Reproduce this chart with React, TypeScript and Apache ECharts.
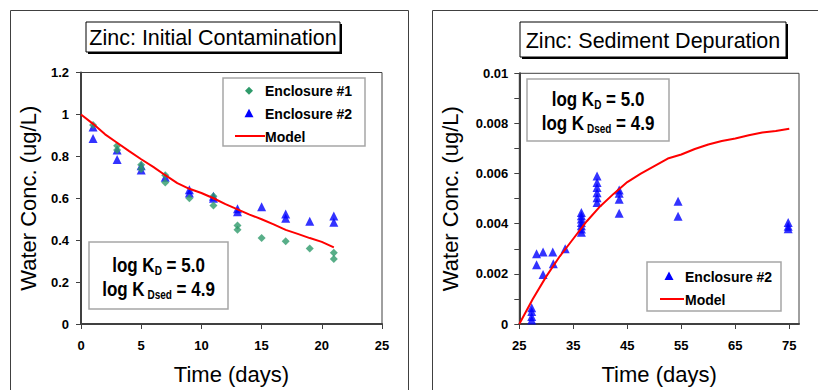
import { useEffect, useRef } from "react";
import * as echarts from "echarts";

const FONT = '"Liberation Sans", Arial, Helvetica, sans-serif';
const AXIS_COLOR = "#404040";
const GREEN = "#2e9a6a";
const BLUE = "#0000ff";
const RED = "#ff0000";

// ---- Zinc: initial contamination ----
const enc1Days = [1, 3, 3, 5, 5, 7, 7, 9, 11, 11, 13, 13, 15, 17, 19, 21, 21];
const enc1Conc = [0.95, 0.85, 0.83, 0.76, 0.74, 0.71, 0.675, 0.6, 0.61, 0.565, 0.47, 0.45, 0.41, 0.395, 0.36, 0.34, 0.31];

const enc2Days = [1, 1, 3, 3, 5, 5, 7, 9, 9, 11, 11, 13, 13, 15, 17, 17, 19, 21, 21];
const enc2Conc = [0.94, 0.885, 0.83, 0.785, 0.755, 0.735, 0.7, 0.64, 0.625, 0.61, 0.6, 0.55, 0.535, 0.56, 0.525, 0.505, 0.49, 0.515, 0.485];

const modelDays = [0, 1, 2, 3, 4, 5, 6, 7, 8, 9, 10, 11, 12, 13, 14, 15, 16, 17, 18, 19, 20, 21];
const modelConc = [1.0, 0.955, 0.905, 0.865, 0.825, 0.786, 0.75, 0.71, 0.672, 0.645, 0.625, 0.6, 0.572, 0.547, 0.522, 0.5, 0.475, 0.449, 0.43, 0.41, 0.392, 0.366];

const initXTicks = [0, 5, 10, 15, 20, 25];

// ---- Zinc: sediment depuration ----
const depDays = [
  27.3, 27.3, 27.3, 27.3,
  28.2, 28.2, 29.4, 29.4, 31.2, 31.3, 33.5,
  36.5, 36.5, 36.5, 36.5, 36.5, 36.5, 36.5,
  39.4, 39.4, 39.4, 39.4, 39.4, 39.4,
  43.5, 43.5, 43.5, 43.5,
  54.4, 54.4,
  74.8, 74.8, 74.8,
];
const depConc = [
  0.00065, 0.0005, 0.0003, 0.00016,
  0.0028, 0.00236, 0.00287, 0.00197, 0.00287, 0.0024, 0.003,
  0.00445, 0.00432, 0.00419, 0.00405, 0.00392, 0.00379, 0.00366,
  0.0059, 0.00564, 0.00544, 0.00524, 0.00504, 0.00485,
  0.00535, 0.00522, 0.00498, 0.00442,
  0.0049, 0.0043,
  0.00405, 0.0039, 0.0038,
];

const depModelDays = [25, 27.5, 30, 32.5, 35, 37.5, 40, 42.5, 45, 47.5, 50, 52.5, 55, 57.5, 60, 62.5, 65, 67.5, 70, 72.5, 75];
const depModelConc = [0, 0.001, 0.0019, 0.0027, 0.0034, 0.0041, 0.0047, 0.0052, 0.00566, 0.006, 0.0063, 0.0066, 0.00676, 0.00698, 0.00716, 0.0073, 0.0074, 0.00753, 0.00764, 0.0077, 0.00779];

const depXTicks = [25, 35, 45, 55, 65, 75];

const pairs = (xs: number[], ys: number[]) => xs.map((x, i) => [x, ys[i]]);

const tickLabel = {
  fontFamily: FONT,
  fontWeight: "bold" as const,
  fontSize: 13,
  color: "#000",
};

const axisName = {
  fontFamily: FONT,
  fontSize: 22,
  color: "#000",
};

function titleBox(x: number, y: number, w: number, h: number, text: string) {
  return {
    type: "group",
    children: [
      { type: "rect", shape: { x: x + 2, y: y + 2, width: w, height: h }, style: { fill: "#000" } },
      { type: "rect", shape: { x, y, width: w, height: h }, style: { fill: "#fff", stroke: "#000", lineWidth: 1 } },
      {
        type: "text",
        x: x + w / 2,
        y: y + h / 2 + 1,
        style: { text, fontFamily: FONT, fontSize: 21.5, fill: "#000", align: "center", verticalAlign: "middle" },
      },
    ],
  };
}

// Box with the two partition coefficients, slightly stretched vertically
function kBox(x: number, y: number, w: number, h: number) {
  const big = { fontFamily: FONT, fontWeight: "bold", fontSize: 17, lineHeight: 20, fill: "#000" };
  const sub = { fontFamily: FONT, fontWeight: "bold", fontSize: 10, lineHeight: 12, fill: "#000", verticalAlign: "bottom" };
  return {
    type: "group",
    children: [
      { type: "rect", shape: { x, y, width: w, height: h }, style: { fill: "#fff", stroke: "#a6a6a6", lineWidth: 1.5 } },
      {
        type: "text",
        x: x + w / 2,
        y: y + h / 2 + 1,
        scaleY: 1.2,
        style: {
          text: "{b|log K}{s|D}{b| = 5.0}\n{b|log K}{s| Dsed}{b| = 4.9}",
          align: "center",
          verticalAlign: "middle",
          rich: { b: big, s: sub },
        },
      },
    ],
  };
}

type LegendEntry = { label: string; kind: "diamond" | "triangle" | "line" };

function legendBox(x: number, y: number, w: number, h: number, rows: number[], markX: number, lineX: [number, number], textX: number, entries: LegendEntry[]) {
  const children: any[] = [
    { type: "rect", shape: { x, y, width: w, height: h }, style: { fill: "#fff", stroke: "#a6a6a6", lineWidth: 1.5 } },
  ];
  entries.forEach((e, i) => {
    const cy = rows[i];
    if (e.kind === "diamond") {
      children.push({
        type: "polygon",
        shape: { points: [[markX, cy - 4], [markX + 4, cy], [markX, cy + 4], [markX - 4, cy]] },
        style: { fill: GREEN },
      });
    } else if (e.kind === "triangle") {
      children.push({
        type: "polygon",
        shape: { points: [[markX, cy - 4.5], [markX + 4.5, cy + 4], [markX - 4.5, cy + 4]] },
        style: { fill: BLUE },
      });
    } else {
      children.push({
        type: "line",
        shape: { x1: lineX[0], y1: cy, x2: lineX[1], y2: cy },
        style: { stroke: RED, lineWidth: 2 },
      });
    }
    children.push({
      type: "text",
      x: textX,
      y: cy + 0.5,
      style: { text: e.label, fontFamily: FONT, fontWeight: "bold", fontSize: 14, fill: "#000", align: "left", verticalAlign: "middle" },
    });
  });
  return { type: "group", children };
}

function frame(x: number, w: number) {
  return {
    type: "rect",
    shape: { x, y: 10.5, width: w, height: 420 },
    style: { fill: "none", stroke: AXIS_COLOR, lineWidth: 1 },
    z: -10,
  };
}

function buildOption() {
  const tick = { show: true, length: 5, lineStyle: { color: AXIS_COLOR, width: 1 } };
  const line = { show: true, onZero: false, lineStyle: { color: AXIS_COLOR, width: 2 } };
  return {
    animation: false,
    backgroundColor: "#fff",
    grid: [
      { left: 81, top: 72.5, width: 301, height: 253, show: true, borderColor: AXIS_COLOR, borderWidth: 1, backgroundColor: "#fff" },
      { left: 519.3, top: 73.3, width: 279.7, height: 252.4, show: true, borderColor: AXIS_COLOR, borderWidth: 1, backgroundColor: "#fff" },
    ],
    xAxis: [
      {
        gridIndex: 0,
        type: "value",
        min: 0,
        max: 25,
        interval: 5,
        axisLine: line,
        axisTick: { ...tick, customValues: initXTicks },
        axisLabel: { ...tickLabel, margin: 15, customValues: initXTicks },
        splitLine: { show: false },
        name: "Time (days)",
        nameLocation: "middle",
        nameGap: 39,
        nameTextStyle: axisName,
      },
      {
        gridIndex: 1,
        type: "value",
        min: 25,
        max: 76.8,
        axisLine: line,
        axisTick: { ...tick, customValues: depXTicks },
        axisLabel: { ...tickLabel, margin: 15, customValues: depXTicks },
        splitLine: { show: false },
        name: "Time (days)",
        nameLocation: "middle",
        nameGap: 39,
        nameTextStyle: axisName,
      },
    ],
    yAxis: [
      {
        gridIndex: 0,
        type: "value",
        min: 0,
        max: 1.2,
        interval: 0.2,
        axisLine: line,
        axisTick: tick,
        axisLabel: { ...tickLabel, margin: 12 },
        splitLine: { show: false },
        name: "Water Conc. (ug/L)",
        nameLocation: "middle",
        nameRotate: 90,
        nameGap: 42,
        nameTextStyle: axisName,
      },
      {
        gridIndex: 1,
        type: "value",
        min: 0,
        max: 0.01,
        interval: 0.002,
        axisLine: line,
        axisTick: tick,
        minorTick: { show: true, splitNumber: 2, length: 5, lineStyle: { color: AXIS_COLOR, width: 1 } },
        axisLabel: { ...tickLabel, margin: 11 },
        splitLine: { show: false },
        name: "Water Conc. (ug/L)",
        nameLocation: "middle",
        nameRotate: 90,
        nameGap: 58,
        nameTextStyle: axisName,
      },
    ],
    series: [
      {
        name: "Enclosure #1",
        type: "scatter",
        xAxisIndex: 0,
        yAxisIndex: 0,
        symbol: "diamond",
        symbolSize: 8,
        itemStyle: { color: GREEN },
        data: pairs(enc1Days, enc1Conc),
        z: 3,
      },
      {
        name: "Enclosure #2",
        type: "scatter",
        xAxisIndex: 0,
        yAxisIndex: 0,
        symbol: "triangle",
        symbolSize: 9,
        itemStyle: { color: BLUE },
        data: pairs(enc2Days, enc2Conc),
        z: 2,
      },
      {
        name: "Model",
        type: "line",
        xAxisIndex: 0,
        yAxisIndex: 0,
        symbol: "none",
        lineStyle: { color: RED, width: 2 },
        itemStyle: { color: RED },
        data: pairs(modelDays, modelConc),
        z: 4,
      },
      {
        name: "Enclosure #2",
        type: "scatter",
        xAxisIndex: 1,
        yAxisIndex: 1,
        symbol: "triangle",
        symbolSize: 9,
        itemStyle: { color: BLUE },
        data: pairs(depDays, depConc),
        z: 2,
      },
      {
        name: "Model",
        type: "line",
        xAxisIndex: 1,
        yAxisIndex: 1,
        symbol: "none",
        lineStyle: { color: RED, width: 2 },
        itemStyle: { color: RED },
        data: pairs(depModelDays, depModelConc),
        z: 4,
      },
    ],
    graphic: [
      frame(10.5, 398),
      frame(432.5, 420),
      titleBox(86, 22, 254, 30, "Zinc: Initial Contamination"),
      titleBox(520, 22, 266, 35, "Zinc: Sediment Depuration"),
      kBox(89, 242, 139, 67),
      kBox(527, 79, 142, 62),
      legendBox(223, 78, 142, 68, [90.7, 113.3, 136], 249, [235, 265], 265, [
        { label: "Enclosure #1", kind: "diamond" },
        { label: "Enclosure #2", kind: "triangle" },
        { label: "Model", kind: "line" },
      ]),
      legendBox(647, 262, 134, 49, [276, 299], 669, [660, 684], 685, [
        { label: "Enclosure #2", kind: "triangle" },
        { label: "Model", kind: "line" },
      ]),
    ],
  };
}

export default function App() {
  const ref = useRef<HTMLDivElement>(null);
  useEffect(() => {
    const chart = echarts.init(ref.current!, null, { renderer: "svg" });
    chart.setOption(buildOption() as any);
    return () => chart.dispose();
  }, []);
  return (
    <div
      ref={ref}
      style={{ position: "absolute", left: 0, top: 0, width: 818, height: 390, background: "#fff" }}
    />
  );
}
